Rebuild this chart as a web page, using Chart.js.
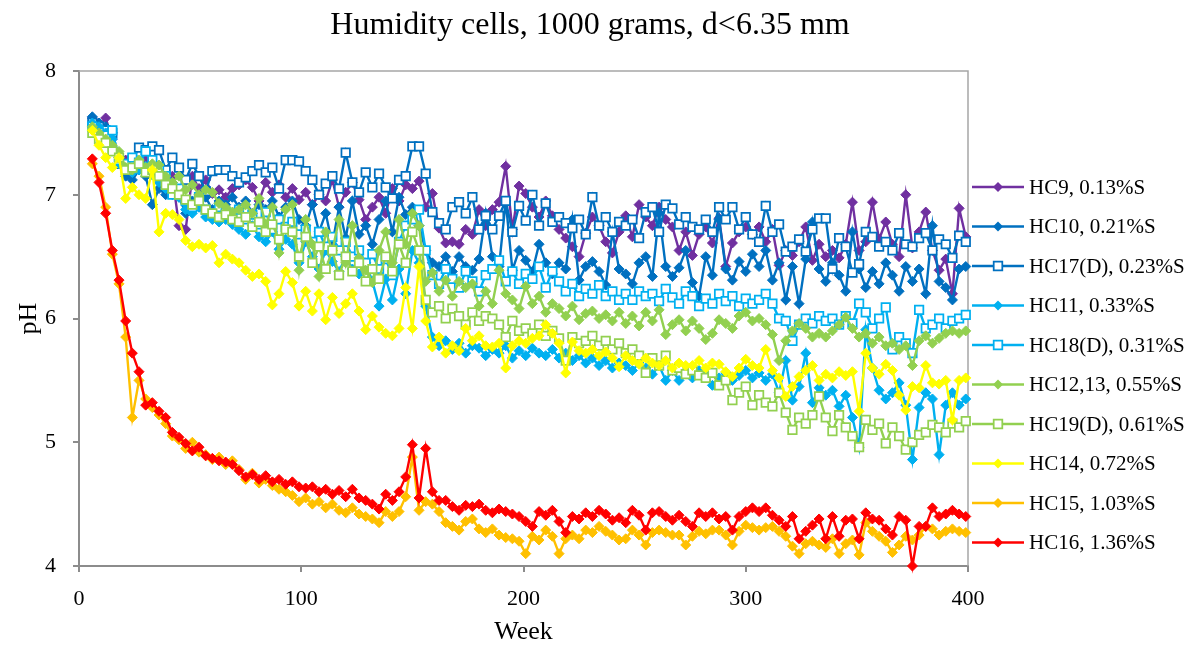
<!DOCTYPE html>
<html>
<head>
<meta charset="utf-8">
<title>Humidity cells pH</title>
<script src="https://cdn.jsdelivr.net/npm/chart.js@4.4.1/dist/chart.umd.min.js"></script>
<style>
  html, body { margin: 0; padding: 0; background: #fff; }
  #wrap { width: 1195px; height: 650px; position: relative; }
</style>
</head>
<body>
<div id="wrap"><canvas id="phChart"></canvas></div>
<script>
// sampling weeks (shared by all cells)
const weeks = [
  6,9,12,15,18,21,24,27,30,33,
  36,39,42,45,48,51,54,57,60,63,
  66,69,72,75,78,81,84,87,90,93,
  96,99,102,105,108,111,114,117,120,123,
  126,129,132,135,138,141,144,147,150,153,
  156,159,162,165,168,171,174,177,180,183,
  186,189,192,195,198,201,204,207,210,213,
  216,219,222,225,228,231,234,237,240,243,
  246,249,252,255,258,261,264,267,270,273,
  276,279,282,285,288,291,294,297,300,303,
  306,309,312,315,318,321,324,327,330,333,
  336,339,342,345,348,351,354,357,360,363,
  366,369,372,375,378,381,384,387,390,393,
  396,399
];

const hc9 = [
  7.62,7.55,7.62,7.45,7.30,7.28,7.25,7.22,7.28,7.18,
  7.20,7.10,7.15,6.75,6.72,7.15,7.05,7.12,7.01,7.04,
  6.98,7.05,7.08,7.12,7.06,6.95,7.10,7.02,7.08,6.98,
  7.05,6.96,7.02,6.92,7.00,6.95,7.12,6.90,7.02,7.10,
  6.96,6.80,6.90,6.98,6.85,7.05,6.95,7.08,7.05,7.11,
  6.90,7.01,6.73,6.61,6.62,6.60,6.72,6.68,6.88,6.75,
  6.88,6.94,7.23,6.72,7.07,7.01,6.90,6.82,6.95,6.83,
  6.72,6.65,6.58,6.50,6.69,6.82,6.75,6.62,6.53,6.70,
  6.83,6.66,6.92,6.82,6.75,6.90,6.80,6.74,6.55,6.70,
  6.51,6.68,6.74,6.61,6.81,6.42,6.61,6.70,6.74,6.68,
  6.74,6.62,6.72,6.43,6.55,6.51,6.62,6.74,6.47,6.60,
  6.50,6.55,6.49,6.60,6.94,6.55,6.62,6.94,6.64,6.78,
  6.60,6.50,7.00,6.57,6.70,6.86,6.55,6.39,6.48,6.20,
  6.89,6.66
];
const hc10 = [
  7.63,7.58,7.55,7.50,7.30,7.15,7.12,7.20,7.15,6.92,
  7.05,7.00,7.10,6.98,6.85,6.95,6.90,6.98,6.88,6.95,
  6.92,6.98,6.90,6.95,6.85,6.92,6.88,6.95,6.82,6.90,
  6.95,6.80,6.75,6.92,6.70,6.85,6.60,6.90,6.65,6.95,
  6.68,6.75,6.60,6.80,6.95,6.70,6.98,6.84,6.90,6.75,
  6.55,6.45,6.42,6.50,6.38,6.50,6.42,6.39,6.48,6.85,
  6.50,6.42,6.95,6.39,6.55,6.47,6.38,6.60,6.45,6.36,
  6.45,6.40,6.80,6.31,6.42,6.46,6.38,6.27,6.70,6.40,
  6.36,6.28,6.45,6.50,6.34,6.85,6.42,6.34,6.41,6.55,
  6.29,6.18,6.50,6.35,6.80,6.40,6.31,6.46,6.38,6.52,
  6.42,6.55,6.31,6.45,6.15,6.42,6.12,6.48,6.78,6.40,
  6.30,6.45,6.35,6.22,6.70,6.40,6.25,6.38,6.28,6.45,
  6.35,6.22,6.42,6.30,6.40,6.20,6.75,6.30,6.25,6.15,
  6.40,6.42
];
const hc17 = [
  7.58,7.55,7.52,7.50,7.25,7.22,7.28,7.38,7.36,7.39,
  7.36,7.20,7.30,7.22,7.12,7.25,7.15,7.03,7.19,7.20,
  7.20,7.15,7.10,7.14,7.19,7.24,7.18,7.22,7.05,7.28,
  7.28,7.27,7.19,7.12,7.00,7.09,7.15,7.05,7.34,7.10,
  7.02,7.18,7.06,7.17,7.06,6.97,7.12,7.15,7.39,7.39,
  7.17,6.86,6.77,6.72,6.90,6.94,6.85,6.98,6.72,6.83,
  6.72,6.83,6.95,6.70,6.91,6.79,7.00,6.75,6.93,6.78,
  6.82,6.77,6.73,6.80,6.68,6.98,6.75,6.82,6.70,6.78,
  6.75,6.80,6.65,6.86,6.90,6.70,6.92,6.89,6.76,6.82,
  6.74,6.72,6.80,6.70,6.90,6.80,6.90,6.72,6.82,6.68,
  6.62,6.91,6.70,6.76,6.54,6.58,6.64,6.54,6.72,6.81,
  6.81,6.40,6.65,6.58,6.37,6.44,6.70,6.66,6.58,6.62,
  6.55,6.69,6.60,6.58,6.65,6.69,6.55,6.64,6.60,6.49,
  6.67,6.62
];
const hc11 = [
  7.58,7.55,7.50,7.45,7.25,7.22,7.18,7.20,7.23,7.16,
  7.10,7.05,7.00,6.98,6.88,6.85,6.90,6.82,6.80,6.78,
  6.80,6.76,6.72,6.68,6.75,6.66,6.62,6.70,6.56,6.64,
  6.60,6.45,6.62,6.50,6.40,6.55,6.46,6.38,6.50,6.40,
  6.36,6.45,6.30,6.10,6.32,6.15,6.40,6.20,6.55,6.45,
  6.10,5.85,5.78,5.82,5.75,5.80,5.72,5.78,5.76,5.70,
  5.75,5.72,5.78,5.68,5.74,5.70,5.76,5.72,5.70,5.75,
  5.68,5.72,5.66,5.70,5.64,5.68,5.62,5.66,5.60,5.64,
  5.62,5.58,5.64,5.60,5.55,5.62,5.50,5.58,5.50,5.56,
  5.52,5.58,5.55,5.46,5.52,5.56,5.50,5.54,5.58,5.52,
  5.56,5.50,5.55,5.40,5.66,5.34,5.45,5.72,5.32,5.44,
  5.38,5.42,5.29,5.38,5.20,4.96,5.91,5.60,5.42,5.35,
  5.40,5.48,5.30,4.86,5.28,5.40,5.35,4.90,5.30,5.40,
  5.30,5.35
];
const hc18 = [
  7.55,7.50,7.48,7.52,7.28,7.25,7.30,7.26,7.35,7.28,
  7.22,7.15,7.00,7.05,6.95,6.90,6.98,6.88,6.85,6.90,
  6.86,6.82,6.88,6.80,6.84,6.76,6.86,6.72,6.80,6.74,
  6.78,6.68,6.72,6.62,6.70,6.58,6.66,6.55,6.62,6.50,
  6.55,6.45,6.52,6.40,6.48,6.35,6.62,6.75,6.80,6.88,
  6.55,6.35,6.28,6.40,6.32,6.25,6.38,6.30,6.22,6.35,
  6.40,6.47,6.30,6.38,6.28,6.36,6.32,6.42,6.25,6.38,
  6.30,6.22,6.28,6.18,6.24,6.20,6.27,6.18,6.22,6.15,
  6.20,6.15,6.22,6.18,6.20,6.14,6.24,6.17,6.12,6.22,
  6.18,6.10,6.16,6.12,6.20,6.14,6.18,6.10,6.16,6.12,
  6.15,6.20,6.12,6.00,5.98,5.82,5.95,6.00,5.96,6.02,
  5.98,6.00,5.95,6.02,5.96,6.12,6.05,5.92,6.00,6.09,
  5.75,5.85,5.80,5.72,6.07,5.92,5.95,6.00,5.92,5.98,
  6.00,6.03
];
const hc1213 = [
  7.55,7.50,7.45,7.40,7.35,7.22,7.20,7.28,7.22,7.25,
  7.24,7.15,7.10,7.15,7.04,7.08,7.00,7.04,7.02,6.93,
  6.90,6.86,6.88,6.92,6.85,6.97,6.76,6.90,6.53,6.88,
  6.92,6.39,6.80,6.60,6.34,6.70,6.55,6.80,6.45,6.75,
  6.49,6.39,6.29,6.55,6.70,6.45,6.80,6.60,6.85,6.75,
  6.30,6.37,6.22,6.31,6.18,6.30,6.25,6.28,6.10,6.22,
  6.12,6.39,6.20,6.15,6.08,6.26,6.12,6.18,6.05,6.12,
  6.08,6.02,6.10,5.99,6.04,6.06,6.00,6.03,5.98,6.05,
  5.96,6.02,5.94,6.05,5.98,6.07,5.87,5.95,5.99,5.90,
  5.98,5.92,5.83,5.88,5.99,5.96,5.92,6.02,6.05,5.98,
  6.00,5.95,5.87,5.66,5.82,5.90,5.96,5.92,5.85,5.88,
  5.85,5.90,5.95,6.01,5.92,5.85,5.88,5.80,5.85,5.78,
  5.80,5.75,5.78,5.62,5.82,5.86,5.80,5.84,5.88,5.90,
  5.88,5.90
];
const hc19 = [
  7.50,7.45,7.42,7.35,7.30,7.20,7.22,7.25,7.18,7.20,
  7.15,7.08,7.05,7.00,6.96,6.92,6.95,6.88,6.85,6.82,
  6.84,6.80,6.78,6.82,6.74,6.78,6.70,6.76,6.64,6.72,
  6.70,6.50,6.66,6.45,6.58,6.40,6.55,6.35,6.50,6.38,
  6.45,6.30,6.40,6.32,6.50,6.38,6.60,6.45,6.70,6.55,
  6.15,6.05,6.10,6.00,6.08,6.02,5.95,6.05,5.98,6.02,
  6.00,5.95,5.85,5.98,5.90,5.92,5.88,5.95,5.86,5.90,
  5.84,5.66,5.85,5.80,5.82,5.86,5.78,5.82,5.75,5.80,
  5.72,5.75,5.70,5.56,5.68,5.62,5.70,5.58,5.60,5.55,
  5.58,5.54,5.52,5.56,5.46,5.50,5.34,5.40,5.45,5.30,
  5.38,5.32,5.29,5.40,5.24,5.10,5.20,5.15,5.22,5.37,
  5.20,5.09,5.22,5.12,5.05,4.96,5.18,5.10,5.15,4.99,
  5.12,5.05,4.94,5.00,5.06,5.08,5.14,5.12,5.08,5.15,
  5.12,5.17
];
const hc14 = [
  7.52,7.40,7.30,7.22,7.30,6.97,7.06,7.00,6.97,7.20,
  6.70,6.85,6.84,6.80,6.63,6.58,6.60,6.57,6.59,6.45,
  6.52,6.48,6.45,6.39,6.34,6.36,6.30,6.11,6.20,6.38,
  6.29,6.10,6.22,6.06,6.20,5.99,6.17,6.04,6.12,6.20,
  6.06,5.91,6.02,5.93,5.88,5.86,5.92,6.25,5.92,6.42,
  5.98,5.77,5.85,5.72,5.78,5.74,5.92,5.82,5.86,5.78,
  5.77,5.80,5.60,5.78,5.82,5.80,5.84,5.86,5.95,5.88,
  5.80,5.56,5.81,5.74,5.72,5.75,5.70,5.73,5.68,5.61,
  5.70,5.66,5.63,5.68,5.64,5.62,5.66,5.60,5.64,5.62,
  5.62,5.66,5.60,5.64,5.63,5.57,5.53,5.60,5.67,5.62,
  5.60,5.75,5.58,5.52,5.37,5.45,5.53,5.58,5.62,5.50,
  5.55,5.52,5.57,5.54,5.57,5.25,5.72,5.60,5.55,5.63,
  5.58,5.38,5.26,5.45,5.44,5.62,5.48,5.47,5.50,5.18,
  5.50,5.52
];
const hc15 = [
  7.25,7.15,6.90,6.52,6.28,5.85,5.20,5.50,5.35,5.28,
  5.22,5.15,5.05,5.02,4.95,5.00,4.92,4.90,4.86,4.88,
  4.82,4.85,4.78,4.70,4.75,4.67,4.70,4.65,4.62,4.60,
  4.57,4.52,4.55,4.50,4.52,4.47,4.50,4.45,4.43,4.47,
  4.42,4.40,4.38,4.35,4.44,4.40,4.44,4.56,4.88,4.45,
  4.52,4.50,4.44,4.35,4.32,4.29,4.36,4.38,4.30,4.27,
  4.30,4.25,4.23,4.22,4.20,4.10,4.24,4.21,4.29,4.24,
  4.10,4.22,4.25,4.22,4.29,4.27,4.32,4.28,4.25,4.21,
  4.22,4.29,4.25,4.17,4.27,4.29,4.27,4.25,4.25,4.17,
  4.24,4.28,4.26,4.29,4.29,4.25,4.17,4.28,4.33,4.31,
  4.29,4.31,4.32,4.28,4.24,4.16,4.10,4.18,4.20,4.17,
  4.15,4.22,4.10,4.18,4.21,4.09,4.35,4.28,4.24,4.20,
  4.11,4.17,4.24,4.21,4.25,4.32,4.30,4.25,4.28,4.30,
  4.28,4.27
];
const hc16 = [
  7.29,7.10,6.85,6.55,6.31,5.98,5.72,5.57,5.30,5.32,
  5.25,5.20,5.08,5.04,4.99,4.93,4.96,4.89,4.87,4.85,
  4.84,4.82,4.77,4.72,4.74,4.70,4.73,4.68,4.70,4.66,
  4.68,4.64,4.63,4.64,4.60,4.62,4.58,4.61,4.56,4.62,
  4.55,4.53,4.50,4.46,4.58,4.53,4.60,4.72,4.98,4.55,
  4.95,4.60,4.53,4.53,4.48,4.45,4.49,4.48,4.50,4.45,
  4.43,4.46,4.44,4.42,4.40,4.36,4.32,4.44,4.41,4.45,
  4.36,4.27,4.40,4.38,4.43,4.40,4.45,4.42,4.37,4.39,
  4.35,4.45,4.41,4.29,4.43,4.44,4.40,4.37,4.41,4.36,
  4.32,4.43,4.40,4.43,4.38,4.40,4.29,4.40,4.44,4.47,
  4.44,4.47,4.41,4.37,4.32,4.40,4.22,4.28,4.33,4.38,
  4.22,4.40,4.24,4.37,4.38,4.22,4.43,4.38,4.37,4.30,
  4.25,4.40,4.37,4.00,4.32,4.32,4.47,4.40,4.42,4.45,
  4.42,4.40
];

const labels = [
  "HC9, 0.13%S", "HC10, 0.21%S", "HC17(D), 0.23%S", "HC11, 0.33%S",
  "HC18(D), 0.31%S", "HC12,13, 0.55%S", "HC19(D), 0.61%S", "HC14, 0.72%S",
  "HC15, 1.03%S", "HC16, 1.36%S"
];
const seriesValues = [hc9, hc10, hc17, hc11, hc18, hc1213, hc19, hc14, hc15, hc16];
const colors = ["#7030A0", "#0070C0", "#0070C0", "#00B0F0", "#00B0F0",
                "#92D050", "#92D050", "#FFFF00", "#FFC000", "#FF0000"];
const hollow = [false, false, true, false, true, false, true, false, false, false];

const serif = '"Liberation Serif", "Times New Roman", serif';
Chart.defaults.font.family = serif;
Chart.defaults.color = "#000";

const datasets = seriesValues.map((vals, i) => ({
  label: labels[i],
  data: weeks.map((w, j) => ({ x: w, y: vals[j] })),
  borderColor: colors[i],
  backgroundColor: colors[i],
  borderWidth: 2.4,
  pointStyle: hollow[i] ? "rect" : "rectRot",
  pointRadius: hollow[i] ? 6 : 5,
  pointBorderWidth: hollow[i] ? 1.75 : 1,
  pointBackgroundColor: hollow[i] ? "#fff" : colors[i],
  pointBorderColor: colors[i],
  tension: 0,
  clip: false,
  order: seriesValues.length - i
}));

function drawMarker(ctx, hollowMark, x, y, color) {
  ctx.beginPath();
  if (hollowMark) {
    const s = 4.3;
    ctx.rect(x - s, y - s, 2 * s, 2 * s);
    ctx.fillStyle = "#fff";
    ctx.fill();
    ctx.lineWidth = 1.75;
    ctx.strokeStyle = color;
    ctx.stroke();
  } else {
    const r = 5;
    ctx.moveTo(x, y - r);
    ctx.lineTo(x + r, y);
    ctx.lineTo(x, y + r);
    ctx.lineTo(x - r, y);
    ctx.closePath();
    ctx.fillStyle = color;
    ctx.fill();
  }
}

// legend on the right: line + marker + label, like the spreadsheet one
const sideLegend = {
  id: "sideLegend",
  afterDraw(chart) {
    const ctx = chart.ctx;
    ctx.save();
    chart.data.datasets.forEach((ds, i) => {
      const y = 187 + i * 39.5;
      ctx.strokeStyle = ds.borderColor;
      ctx.lineWidth = 2.4;
      ctx.beginPath();
      ctx.moveTo(972, y);
      ctx.lineTo(1024, y);
      ctx.stroke();
      drawMarker(ctx, hollow[i], 998, y, ds.borderColor);
      ctx.fillStyle = "#000";
      ctx.font = "21px " + serif;
      ctx.textAlign = "left";
      ctx.textBaseline = "middle";
      ctx.fillText(ds.label, 1029, y + 1);
    });
    ctx.restore();
  }
};

// light grey frame on top and right of the plot area
const plotFrame = {
  id: "plotFrame",
  beforeDatasetsDraw(chart) {
    const { ctx, chartArea: a } = chart;
    ctx.save();
    ctx.strokeStyle = "#a6a6a6";
    ctx.lineWidth = 1.5;
    ctx.beginPath();
    ctx.moveTo(a.left, a.top);
    ctx.lineTo(a.right, a.top);
    ctx.lineTo(a.right, a.bottom);
    ctx.stroke();
    ctx.restore();
  }
};

new Chart(document.getElementById("phChart"), {
  type: "line",
  data: { datasets },
  plugins: [plotFrame, sideLegend],
  options: {
    responsive: true,
    maintainAspectRatio: false,
    animation: false,
    layout: { padding: { left: 0, right: 15, top: 0, bottom: 0 } },
    plugins: {
      legend: { display: false },
      tooltip: { enabled: false },
      title: {
        display: true,
        text: "Humidity cells, 1000 grams, d<6.35 mm",
        font: { size: 32, weight: "normal", family: serif },
        color: "#000",
        padding: { top: 6, bottom: 26.6 }
      }
    },
    scales: {
      x: {
        type: "linear",
        min: 0,
        max: 400,
        ticks: { stepSize: 100, font: { size: 22 }, color: "#000", padding: 14, maxRotation: 0 },
        grid: { drawOnChartArea: false, drawTicks: true, tickLength: 6, color: "#8c8c8c", lineWidth: 2 },
        border: { display: true, color: "#8c8c8c", width: 2 },
        title: { display: true, text: "Week", font: { size: 26 }, color: "#000", padding: { top: 0, bottom: 2 } },
        afterFit(s) { s.height = 84; }
      },
      y: {
        min: 4,
        max: 8,
        ticks: { stepSize: 1, font: { size: 22 }, color: "#000", padding: 17 },
        grid: { drawOnChartArea: false, drawTicks: true, tickLength: 6, color: "#8c8c8c", lineWidth: 2 },
        border: { display: true, color: "#8c8c8c", width: 2 },
        title: { display: true, text: "pH", font: { size: 26 }, color: "#000", padding: { top: 14, bottom: 0 } },
        afterFit(s) { s.width = 79; }
      },
      legendSpace: {
        axis: "y",
        position: "right",
        display: true,
        ticks: { display: false },
        grid: { display: false },
        border: { display: false },
        afterFit(s) { s.width = 212; }
      }
    }
  }
});
</script>
</body>
</html>
